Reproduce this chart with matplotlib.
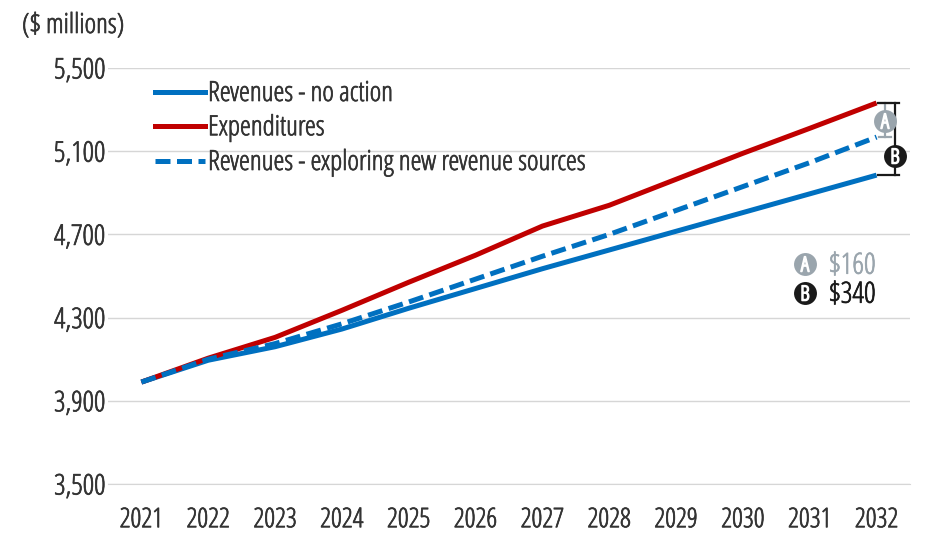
import matplotlib
matplotlib.use('Agg')
import matplotlib.pyplot as plt
import matplotlib.patheffects as pe
from matplotlib.text import Text

years = ['2021', '2022', '2023', '2024', '2025', '2026', '2027', '2028', '2029', '2030', '2031', '2032']
rev_no_action = [3990, 4095, 4160, 4245, 4345, 4440, 4535, 4625, 4715, 4805, 4895, 4985]
expenditures = [3990, 4105, 4205, 4335, 4470, 4600, 4740, 4840, 4965, 5090, 5210, 5332]
rev_new = [3990, 4100, 4175, 4270, 4375, 4485, 4595, 4700, 4815, 4930, 5045, 5168]
y_ticks = [3500, 3900, 4300, 4700, 5100, 5500]

plt.rcParams['font.family'] = ['Open Sans', 'DejaVu Sans']
plt.rcParams['font.stretch'] = 'condensed'

BLUE = '#0070c0'
RED = '#c00000'
GREY = '#9aa5ad'
BLACK = '#1a1a1a'
TEXT = '#333333'
W, H = 932, 533


def fx(px):
    return px / W


def fy(py):
    return 1 - py / H


fig = plt.figure(figsize=(9.32, 5.33), dpi=100)
ax = fig.add_axes([fx(108), fy(484), fx(910 - 108), (484 - 68) / H])
x = list(range(len(years)))
dash = (0, (3, 1.3))

ax.plot(x, rev_no_action, color=BLUE, lw=3.6, zorder=2, solid_capstyle='butt')
ax.plot(x, expenditures, color=RED, lw=3.6, zorder=3, solid_capstyle='butt')
ax.plot(x, rev_new, color=BLUE, lw=3.6, ls=dash, zorder=4)

ax.set_xlim(-0.5, 11.5)
ax.set_ylim(3500, 5500)
ax.set_yticks(y_ticks)
ax.set_yticklabels([f'{v:,}' for v in y_ticks], fontsize=20.5, color=TEXT)
ax.set_xticks(x)
ax.set_xticklabels(years, fontsize=19.5, color=TEXT)
ax.grid(axis='y', color='#d6d6d6', lw=1)
ax.set_axisbelow(True)
ax.tick_params(length=0)
ax.tick_params(axis='x', pad=16)
ax.tick_params(axis='y', pad=2)
for lab in ax.get_yticklabels():
    lab.set_verticalalignment('center_baseline')
for s in ax.spines.values():
    s.set_visible(False)
ax.spines['bottom'].set_visible(True)
ax.spines['bottom'].set_color('#d6d6d6')

fig.text(fx(22), fy(26), '($ millions)', fontsize=20, color=TEXT, va='center')

# legend by hand so the text sits tight to the short lines
legend_items = [('Revenues - no action', BLUE, '-', 92), ('Expenditures', RED, '-', 126),
                ('Revenues - exploring new revenue sources', BLUE, dash, 161)]
for txt, col, ls, py in legend_items:
    fig.add_artist(plt.Line2D([fx(155), fx(205)], [fy(py), fy(py)], color=col, lw=3.6, ls=ls))
    fig.text(fx(208), fy(py + 2), txt, fontsize=20, color=TEXT, va='center')

# gap brackets at 2032
for xs, ys, col in [([885, 885], [103, 137], GREY), ([879, 891], [103, 103], GREY), ([879, 891], [137, 137], GREY),
                    ([895, 895], [103, 175], BLACK), ([878, 899], [103, 103], BLACK),
                    ([878, 899], [175, 175], BLACK)]:
    fig.add_artist(plt.Line2D([fx(v) for v in xs], [fy(v) for v in ys], color=col, lw=1.6))

fig.text(fx(829), fy(266), '$160', fontsize=21, color=GREY, va='center')
fig.text(fx(829), fy(295), '$340', fontsize=21, color=BLACK, va='center')

# the only condensed cut is light, thicken it a bit with a thin stroke
for t in fig.findobj(Text):
    t.set_path_effects([pe.withStroke(linewidth=0.5, foreground=t.get_color())])


def badge(px, py, letter, col):
    fig.add_artist(plt.Line2D([fx(px)], [fy(py)], marker='o', ms=16.5, color=col, mec='none', ls='none', zorder=9))
    t = fig.text(fx(px), fy(py), letter, fontsize=15, color='white', ha='center', va='center_baseline', zorder=10)
    t.set_path_effects([pe.withStroke(linewidth=1.1, foreground='white')])


badge(885, 121, 'A', GREY)
badge(895, 156, 'B', BLACK)
badge(805, 264, 'A', GREY)
badge(805, 293, 'B', BLACK)

fig.savefig('out.png', dpi=100)
